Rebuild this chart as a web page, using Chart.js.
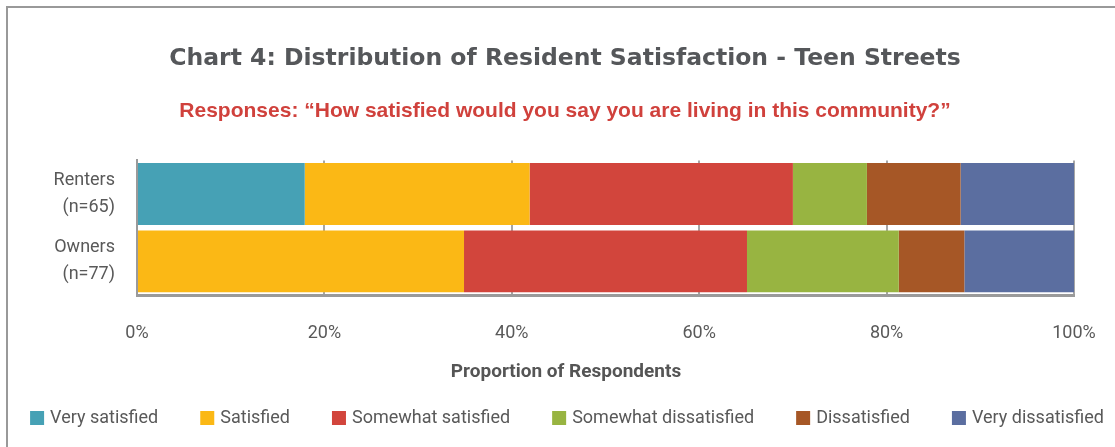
<!DOCTYPE html>
<html>
<head>
<meta charset="utf-8">
<script src="https://cdn.jsdelivr.net/npm/chart.js@4"></script>
<style>
  html, body { margin: 0; padding: 0; background: #fff; }
  #wrap { position: relative; width: 1115px; height: 447px; }
</style>
</head>
<body>
<div id="wrap"><canvas id="chart" width="1115" height="447"></canvas></div>
<script>
// Данные (доли в %)
const categories = [['Renters', '(n=65)'], ['Owners', '(n=77)']];
const veryS = [17.9, 0];
const sat = [24.0, 34.9];
const somewhatSat = [28.1, 30.2];
const somewhatDis = [7.9, 16.2];
const dis = [10.0, 7.0];
const veryDis = [12.1, 11.7];

const seriesNames = ['Very satisfied', 'Satisfied', 'Somewhat satisfied', 'Somewhat dissatisfied', 'Dissatisfied', 'Very dissatisfied'];
const seriesValues = [veryS, sat, somewhatSat, somewhatDis, dis, veryDis];
const seriesColors = ['#46a1b5', '#fbb815', '#d2453c', '#98b441', '#a65726', '#5b6ea0'];

const baseFont = 'Roboto, sans-serif';

// белый фон, серая рамка, подпись оси и легенда в одну строку (как в Excel)
const framePlugin = {
    id: 'frame',
    beforeDraw(chart) {
        const c = chart.ctx;
        c.save();
        c.fillStyle = '#fff';
        c.fillRect(0, 0, chart.width, chart.height);
        c.fillStyle = '#999';
        c.fillRect(6, 6, chart.width - 6, 2);
        c.fillRect(6, 6, 2, chart.height - 6);
        c.restore();
    },
    afterDraw(chart) {
        const c = chart.ctx;
        c.save();
        c.font = 'bold 19px ' + baseFont;
        c.fillStyle = '#555';
        c.textAlign = 'center';
        c.textBaseline = 'middle';
        c.fillText('Proportion of Respondents', 566, chart.chartArea.bottom + 77);

        // легенда
        const box = 14, textGap = 6, itemGap = 42, cy = 418;
        c.font = '18px ' + baseFont;
        c.textAlign = 'left';
        const items = chart.data.datasets.map(function(ds) {
            return { text: ds.label, color: ds.backgroundColor, w: c.measureText(ds.label).width };
        });
        let total = 0;
        items.forEach(function(it, i) {
            total += box + textGap + it.w + (i < items.length - 1 ? itemGap : 0);
        });
        let x = 567 - total / 2;
        items.forEach(function(it) {
            c.fillStyle = it.color;
            c.fillRect(x, cy - box / 2, box, box);
            c.fillStyle = '#595959';
            c.fillText(it.text, x + box + textGap, cy);
            x += box + textGap + it.w + itemGap;
        });
        c.restore();
    }
};

const ctx = document.getElementById('chart').getContext('2d');
new Chart(ctx, {
    type: 'bar',
    data: {
        labels: categories,
        datasets: seriesNames.map(function(name, i) {
            return {
                label: name,
                data: seriesValues[i],
                backgroundColor: seriesColors[i],
                borderWidth: 0,
                barPercentage: 0.92,
                categoryPercentage: 1
            };
        })
    },
    options: {
        indexAxis: 'y',
        responsive: false,
        animation: false,
        layout: { padding: { top: 30, left: 15, right: 0, bottom: 92 } },
        scales: {
            x: {
                stacked: true,
                min: 0,
                max: 100,
                afterFit: function(scale) {
                    scale.height = 60;
                    scale.paddingLeft = 0;
                    scale.paddingRight = 0;
                },
                ticks: {
                    stepSize: 20,
                    padding: 28,
                    color: '#595959',
                    font: { family: baseFont, size: 18 },
                    callback: function(v) { return v + '%'; }
                },
                grid: { color: '#a6a6a6', lineWidth: 2, drawTicks: false },
                border: { display: true, color: '#9a9a9a', width: 3 }
            },
            y: {
                stacked: true,
                afterFit: function(scale) { scale.width = 122; },
                ticks: {
                    autoSkip: false,
                    padding: 22,
                    color: '#595959',
                    font: { family: baseFont, size: 18, lineHeight: 1.5 }
                },
                grid: { display: false, drawTicks: false },
                border: { display: true, color: '#9a9a9a', width: 2 }
            },
            // пустая ось справа, чтобы оставить поле справа от графика
            yRight: {
                type: 'category',
                axis: 'y',
                position: 'right',
                afterFit: function(scale) { scale.width = 41; },
                ticks: { display: false },
                grid: { display: false, drawTicks: false },
                border: { display: false }
            }
        },
        plugins: {
            title: {
                display: true,
                text: 'Chart 4: Distribution of Resident Satisfaction - Teen Streets',
                color: '#55575a',
                font: { family: '"DejaVu Sans", sans-serif', size: 23.5, weight: 'bold' },
                padding: { top: 15, bottom: 12 }
            },
            subtitle: {
                display: true,
                text: 'Responses: \u201cHow satisfied would you say you are living in this community?\u201d',
                color: '#d0413c',
                font: { family: '"Liberation Sans", Arial, sans-serif', size: 21, weight: 'bold' },
                padding: { top: 13, bottom: 37 }
            },
            legend: { display: false },
            tooltip: { enabled: false }
        }
    },
    plugins: [framePlugin]
});
</script>
</body>
</html>
